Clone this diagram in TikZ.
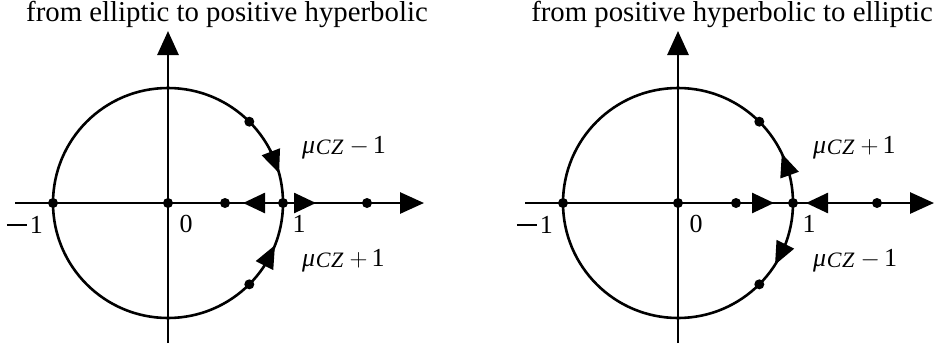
\documentclass[tikz,border=0pt]{standalone}
\usepackage{fontspec}
\setmainfont{Liberation Serif}
\usetikzlibrary{arrows.meta,calc}
\newcommand\muCZ{\textit{μ}\kern0.5pt\raisebox{-1pt}{\fontsize{22}{22}\selectfont\textit{C\kern0.8pt Z}}}
\newcommand\mylab[1]{\muCZ\hspace{6pt}$#1$\hspace{4pt}1}
\newcommand\bigminus{\rule[7.5pt]{20pt}{1.6pt}\hspace{3pt}}
\tikzset{
  ax/.style={line width=2.8pt},
  circ/.style={line width=2.6pt},
  bigtip/.style={-{Triangle[length=24pt,width=21pt]}},
  axtip/.style={line width=2.6pt,-{Triangle[length=22pt,width=20pt]}},
  ctip/.style={line width=2.6pt,-{Triangle[length=23pt,width=19pt]}},
  dot/.style={circle,fill=black,inner sep=0pt,minimum size=10pt},
  lab/.style={font=\fontsize{26}{30}\selectfont,inner sep=0pt},
  ttl/.style={font=\fontsize{28.8}{32}\selectfont,inner sep=0pt,anchor=base},
}
\begin{document}
\begin{tikzpicture}[x=1pt,y=-1pt]
\useasboundingbox (0,0) rectangle (944,351);
% ===== left diagram =====
\coordinate (O1) at (168,203);
\coordinate (L1a) at (15,203);
\coordinate (L1b) at (424,203);
\coordinate (L1c) at (168,343);
\coordinate (L1d) at (168,31);
\draw[circ] (O1) circle[radius=115pt];
\draw[ax,bigtip] (L1a) -- (L1b);
\draw[ax,bigtip] (L1c) -- (L1d);
\node[dot] (l1) at (53,203) {};
\node[dot] (l2) at (O1) {};
\node[dot] (l3) at (225,203) {};
\node[dot] (l4) at (283,203) {};
\node[dot] (l5) at (367,203) {};
\node[dot] (l6) at ($(O1)+(-45:115)$) {};
\node[dot] (l7) at ($(O1)+(45:115)$) {};
\coordinate (la1) at (265,203); \coordinate (la2) at (243,203);
\coordinate (la3) at (294,203); \coordinate (la4) at (316,203);
\draw[axtip] (la1) -- (la2);
\draw[axtip] (la3) -- (la4);
\coordinate (lc1) at ($(O1)+(-27:115)$); \coordinate (lc2) at ($(O1)+(-15:115)$);
\coordinate (lc3) at ($(O1)+(33:115)$); \coordinate (lc4) at ($(O1)+(21.5:115)$);
\draw[ctip] (lc1) -- (lc2);
\draw[ctip] (lc3) -- (lc4);
\node[lab,anchor=base] (t0a) at (186,232) {0};
\node[lab,anchor=base] (t1a) at (299,232) {1};
\node[lab,anchor=base east] (tm1a) at (43,233) {\bigminus 1};
\node[lab,anchor=base west] (ma1) at (302,153) {\mylab{-}};
\node[lab,anchor=base west] (ma2) at (302,266) {\mylab{+}};
\node[ttl] (ta) at (227,21) {from elliptic to positive hyperbolic};
% ===== right diagram =====
\coordinate (O2) at (678,203);
\coordinate (L2a) at (525,203);
\coordinate (L2b) at (934,203);
\coordinate (L2c) at (678,343);
\coordinate (L2d) at (678,31);
\draw[circ] (O2) circle[radius=115pt];
\draw[ax,bigtip] (L2a) -- (L2b);
\draw[ax,bigtip] (L2c) -- (L2d);
\node[dot] (r1) at (563,203) {};
\node[dot] (r2) at (O2) {};
\node[dot] (r3) at (736,203) {};
\node[dot] (r4) at (793,203) {};
\node[dot] (r5) at (877,203) {};
\node[dot] (r6) at ($(O2)+(-45:115)$) {};
\node[dot] (r7) at ($(O2)+(45:115)$) {};
\coordinate (ra1) at (752,203); \coordinate (ra2) at (774,203);
\coordinate (ra3) at (828,203); \coordinate (ra4) at (806,203);
\draw[axtip] (ra1) -- (ra2);
\draw[axtip] (ra3) -- (ra4);
\coordinate (rc1) at ($(O2)+(-14:115)$); \coordinate (rc2) at ($(O2)+(-25.5:115)$);
\coordinate (rc3) at ($(O2)+(21:115)$); \coordinate (rc4) at ($(O2)+(32.5:115)$);
\draw[ctip] (rc1) -- (rc2);
\draw[ctip] (rc3) -- (rc4);
\node[lab,anchor=base] (t0b) at (696,232) {0};
\node[lab,anchor=base] (t1b) at (809,232) {1};
\node[lab,anchor=base east] (tm1b) at (553,233) {\bigminus 1};
\node[lab,anchor=base west] (mb1) at (813,153) {\mylab{+}};
\node[lab,anchor=base west] (mb2) at (813,266) {\mylab{-}};
\node[ttl] (tb) at (732,21) {from positive hyperbolic to elliptic};
\end{tikzpicture}
\end{document}
